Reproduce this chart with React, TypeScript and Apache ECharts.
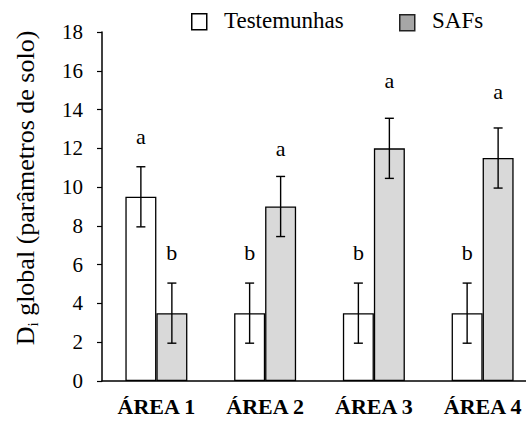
import React, { useEffect, useRef } from 'react';
import * as echarts from 'echarts';

const categories = ['ÁREA 1', 'ÁREA 2', 'ÁREA 3', 'ÁREA 4'];
const testemunhas = [9.5, 3.5, 3.5, 3.5];
const testemunhasErr = [1.55, 1.55, 1.55, 1.55];
const testemunhasLetters = ['a', 'b', 'b', 'b'];
const testemunhasLetterY = [12.5, 6.65, 6.65, 6.65];
const safs = [3.5, 9, 12, 11.5];
const safsErr = [1.55, 1.55, 1.55, 1.55];
const safsLetters = ['b', 'a', 'a', 'a'];
const safsLetterY = [6.65, 11.9, 15.4, 14.85];
const seriesNames = ['Testemunhas', 'SAFs'];
const yAxisTitle = ['D', 'i', ' global (parâmetros de solo)'];

const FONT = 'Liberation Serif';
const BAR_RATIO = 0.285;

function errorSeries(values: number[], errs: number[], letters: string[], letterY: number[], side: number) {
  return {
    type: 'custom',
    silent: true,
    z: 5,
    encode: { x: 0, y: 1 },
    data: values.map((v, i) => [i, v, errs[i], letterY[i]]),
    renderItem: (params: any, api: any) => {
      const i = api.value(0);
      const mean = api.value(1);
      const err = api.value(2);
      const ly = api.value(3);
      const band = api.size([1, 0])[0];
      const cx = api.coord([i, 0])[0] + side * band * BAR_RATIO / 2;
      const top = api.coord([i, mean + err])[1];
      const bot = api.coord([i, mean - err])[1];
      const letter = letters[params.dataIndex];
      const yl = api.coord([i, ly])[1] - (letter === 'a' ? 2 : 0);
      const cap = 4.5;
      const st = { stroke: '#000', lineWidth: 1.4 };
      return {
        type: 'group',
        children: [
          { type: 'line', shape: { x1: cx, y1: top, x2: cx, y2: bot }, style: st },
          { type: 'line', shape: { x1: cx - cap, y1: top, x2: cx + cap, y2: top }, style: st },
          { type: 'line', shape: { x1: cx - cap, y1: bot, x2: cx + cap, y2: bot }, style: st },
          {
            type: 'text',
            x: cx,
            y: yl,
            style: {
              text: letter,
              fill: '#000',
              fontFamily: FONT,
              fontSize: 22,
              align: 'center',
              verticalAlign: 'middle',
            },
          },
        ],
      };
    },
  };
}

export default function App() {
  const ref = useRef<HTMLDivElement>(null);
  useEffect(() => {
    if (!ref.current) return;
    const chart = echarts.init(ref.current, null, { renderer: 'svg' });
    chart.setOption({
      animation: false,
      backgroundColor: '#fff',
      textStyle: { fontFamily: FONT },
      grid: { left: 102, top: 32, width: 435, height: 349, containLabel: false, outerBoundsMode: 'none' },
      xAxis: {
        type: 'category',
        data: categories,
        axisTick: { show: false },
        axisLine: { lineStyle: { color: '#000', width: 1.5 } },
        axisLabel: {
          color: '#000',
          fontFamily: FONT,
          fontWeight: 'bold',
          fontSize: 22,
          margin: 14,
        },
      },
      yAxis: {
        type: 'value',
        min: 0,
        max: 18,
        interval: 2,
        splitLine: { show: false },
        axisLine: { show: true, lineStyle: { color: '#000', width: 1.5 } },
        axisTick: { show: true, length: 5, lineStyle: { color: '#000', width: 1.2 } },
        axisLabel: { color: '#000', fontFamily: FONT, fontSize: 21, margin: 19 },
      },
      series: [
        {
          name: seriesNames[0],
          type: 'bar',
          data: testemunhas,
          barWidth: (BAR_RATIO * 100).toFixed(1) + '%',
          barGap: '0%',
          itemStyle: { color: '#ffffff', borderColor: '#000', borderWidth: 1.3 },
        },
        {
          name: seriesNames[1],
          type: 'bar',
          data: safs,
          barWidth: (BAR_RATIO * 100).toFixed(1) + '%',
          barGap: '0%',
          itemStyle: { color: '#d9d9d9', borderColor: '#000', borderWidth: 1.3 },
        },
        errorSeries(testemunhas, testemunhasErr, testemunhasLetters, testemunhasLetterY, -1),
        errorSeries(safs, safsErr, safsLetters, safsLetterY, 1),
      ],
      graphic: [
        {
          type: 'text',
          x: 25,
          y: 188,
          rotation: Math.PI / 2,
          style: {
            text: `{d|${yAxisTitle[0]}}{s|${yAxisTitle[1]}}{d|${yAxisTitle[2]}}`,
            align: 'center',
            verticalAlign: 'middle',
            rich: {
              d: { fontFamily: FONT, fontSize: 26, fill: '#000', lineHeight: 30 },
              s: { fontFamily: FONT, fontSize: 15, fill: '#000', lineHeight: 30, verticalAlign: 'bottom' },
            },
          },
        },
        { type: 'rect', left: 191, top: 13, shape: { width: 15, height: 16 }, style: { fill: '#fff', stroke: '#000', lineWidth: 1.5 } },
        { type: 'text', left: 224, top: 9, style: { text: seriesNames[0], fontFamily: FONT, fontSize: 23, fill: '#000' } },
        { type: 'rect', left: 399, top: 14, shape: { width: 15, height: 16 }, style: { fill: '#a6a6a6', stroke: '#222', lineWidth: 1.5 } },
        { type: 'text', left: 432, top: 9, style: { text: seriesNames[1], fontFamily: FONT, fontSize: 23, fill: '#000' } },
      ],
    });
    return () => chart.dispose();
  }, []);
  return <div ref={ref} style={{ width: 526, height: 421, position: 'absolute', left: 0, top: 0 }} />;
}
